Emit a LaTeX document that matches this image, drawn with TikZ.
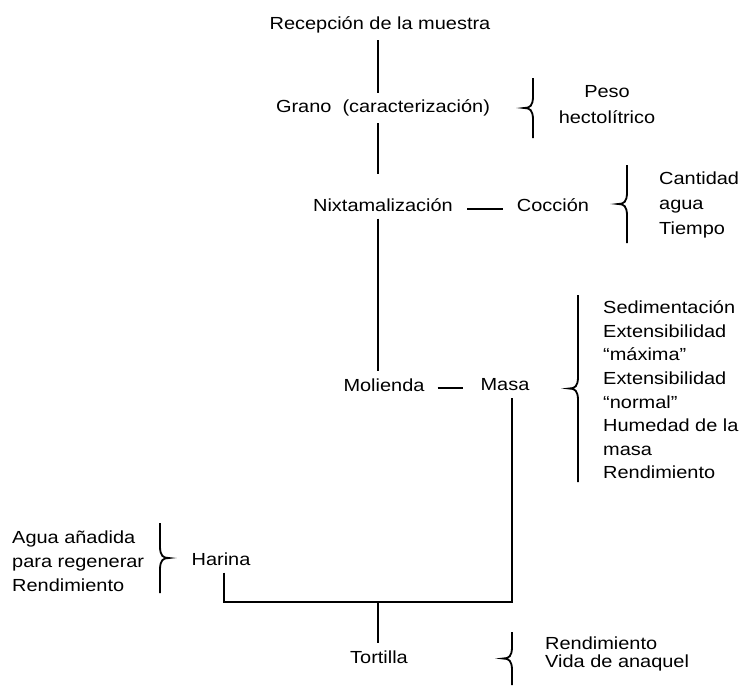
\documentclass[tikz,border=0pt]{standalone}
\usepackage{fontspec}
\setmainfont[FakeStretch=1.14]{Liberation Sans}
\newcommand{\llave}[4]{\draw[line] (#1,#2) -- (#1,{(#2+#3)/2-12}) .. controls (#1,{(#2+#3)/2-2}) and ({#1+#4*3},{(#2+#3)/2}) .. ({#1+#4*9},{(#2+#3)/2}) .. controls ({#1+#4*3},{(#2+#3)/2}) and (#1,{(#2+#3)/2+2}) .. (#1,{(#2+#3)/2+12}) -- (#1,#3);}
\begin{document}
\begin{tikzpicture}[x=1pt,y=-1pt]
\tikzstyle{line}=[line width=1.8pt]
\tikzstyle{every node}=[font=\fontsize{17.5}{24}\selectfont, inner sep=7pt]
\useasboundingbox (0,0) rectangle (746,685);
\coordinate (axis) at (378,0);
\coordinate (J) at (378,602);
\draw node (A) at (380,25) {Recepción de la muestra};
\draw node (B) at (383,108) {Grano\ \ (caracterización)};
\draw node (C1) at (383,205) {Nixtamalización};
\draw node (C2) at (553,205) {Cocción};
\draw node (D1) at (384,385) {Molienda};
\draw node (D2) at (505,385) {Masa};
\draw node (E) at (221,559) {Harina};
\draw node (F) at (379,657) {Tortilla};
% notas
\draw node[align=center, font=\fontsize{17.5}{26}\selectfont] (B1) at (607,105) {Peso\\hectolítrico};
\draw node[align=left, anchor=west, font=\fontsize{17.5}{25}\selectfont] (C3) at (652,205) {Cantidad\\agua\\Tiempo};
\draw node[align=left, anchor=west, font=\fontsize{17.5}{23.6}\selectfont] (D3) at (596,390) {Sedimentación\\Extensibilidad\\“máxima”\\Extensibilidad\\“normal”\\Humedad de la\\masa\\Rendimiento};
\draw node[align=left, anchor=west] (E1) at (5,561) {Agua añadida\\para regenerar\\Rendimiento};
\draw node[align=left, anchor=west, font=\fontsize{17.5}{18}\selectfont] (F1) at (538,654) {Rendimiento\\Vida de anaquel};
% lineas
\draw[line] (A.south -| axis) -- (B.north -| axis);
\draw[line, shorten >=17pt] (B.south -| axis) -- (C1.north -| axis);
\draw[line] (C1.south -| axis) -- (D1.north -| axis);
\draw[line, shorten <=7pt, shorten >=7pt] ([yshift=-4pt]C1.east) -- ([yshift=-4pt]C2.west);
\draw[line, shorten <=6pt, shorten >=10pt] ([yshift=-3pt]D1.east) -- ([yshift=-3pt]D2.west);
\draw[line] ([xshift=3pt]E.south) |- (J) -| ([xshift=7pt]D2.south);
\draw[line] (J) -- (F.north -| axis);
% llaves
\llave{533}{78}{138}{-1}
\llave{627}{165}{243}{-1}
\llave{578}{295}{482}{-1}
\llave{160}{523}{593}{1}
\llave{512}{632}{685}{-1}

\end{tikzpicture}
\end{document}
